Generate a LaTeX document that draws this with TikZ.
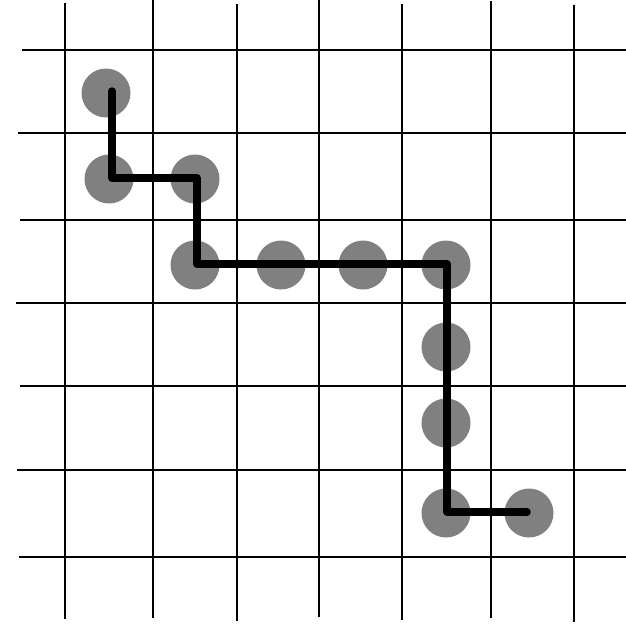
\documentclass[tikz,border=0pt]{standalone}
\usetikzlibrary{positioning}
\definecolor{dotgray}{HTML}{808080}
\begin{document}
\begin{tikzpicture}[
  x=1pt,y=-1pt,
  gridline/.style={line width=2.4pt,black},
  dot/.style={circle,fill=dotgray,minimum size=49pt,inner sep=0pt},
  walk/.style={line width=7.5pt,line cap=round,line join=round}
]
\useasboundingbox (0,0) rectangle (626,624);
% grid
\foreach \x/\ya/\yb in {65/3/619,153/0/618,237/4/621,319/0/617,402/4/620,491/1/618,574/5/622}
  \draw[gridline] (\x,\ya) -- (\x,\yb);
\foreach \y/\xa in {50/22,133/18,220/20,303/16,386/20,470/17,557/19}
  \draw[gridline] (\xa,\y) -- (626,\y);
% occupied cells
\node[dot] (c1) at (106,93) {};
\node[dot] (c2) at (109,179) {};
\node[dot] (c3) at (195,179) {};
\node[dot] (c4) at (195,265) {};
\node[dot] (c5) at (281,265) {};
\node[dot] (c6) at (363,265) {};
\node[dot] (c7) at (446,265) {};
\node[dot] (c8) at (446,347) {};
\node[dot] (c9) at (446,423) {};
\node[dot] (c10) at (446,513) {};
\node[dot] (c11) at (529,513) {};
% walk
\coordinate (w1) at (112,91);
\coordinate (w2) at (112,178);
\coordinate (w3) at (197,178);
\coordinate (w4) at (197,264);
\coordinate (w5) at (447,264);
\coordinate (w6) at (447,512);
\coordinate (w7) at (527,512);
\draw[walk] (w1) -- (w2) -- (w3) -- (w4) -- (w5) -- (w6) -- (w7);
\end{tikzpicture}
\end{document}
